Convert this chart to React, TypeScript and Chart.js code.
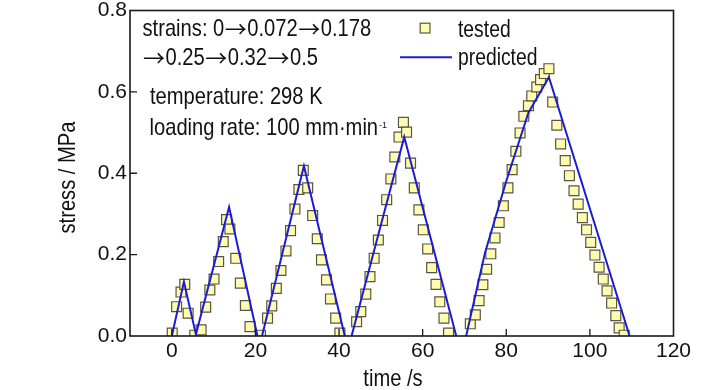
import React, { useEffect, useRef } from 'react';
import { Chart, registerables } from 'chart.js';

Chart.register(...registerables);

// ---- data ----
const testedTime = [
  0.1, 1.15, 2.2, 3.1, 3.9, 5.5, 7.0,
  8.1, 9.1, 10.1, 11.2, 12.3, 13.1, 13.9, 15.3, 16.4, 17.6, 18.7, 21.2,
  22.9, 23.9, 25.0, 26.1, 27.3, 28.4, 29.45, 30.4, 31.45, 32.5, 33.7, 34.8, 35.8, 37.0, 37.95, 39.2, 40.2,
  44.2, 45.2, 46.4, 47.4, 48.4, 49.4, 50.4, 51.4, 52.4, 53.35, 54.35, 55.4,
  56.15, 57.1, 58.0, 59.1, 60.15, 61.2, 62.15, 63.2, 64.1, 65.1, 66.2,
  71.4, 72.6, 73.5, 74.4, 75.3, 76.3, 77.3, 78.3, 79.3, 80.4, 81.4, 82.3, 83.3, 84.2, 85.3, 86.1, 87.3, 88.2, 89.1, 90.2,
  91.1, 92.1, 93.0, 94.1, 95.1, 96.2, 97.2, 98.2, 99.2, 100.2, 101.2, 102.2, 103.2, 104.1, 105.2, 106.2, 107.0, 108.2,
];
const testedStress = [
  0.007, 0.072, 0.108, 0.127, 0.056, 0.002, 0.015,
  0.071, 0.113, 0.14, 0.183, 0.232, 0.286, 0.263, 0.191, 0.13, 0.075, 0.023, 0.002,
  0.044, 0.074, 0.117, 0.161, 0.209, 0.259, 0.312, 0.36, 0.407, 0.364, 0.296, 0.239, 0.187, 0.138, 0.091, 0.044, 0.007,
  0.035, 0.06, 0.103, 0.146, 0.191, 0.236, 0.284, 0.335, 0.386, 0.44, 0.489, 0.525,
  0.501, 0.425, 0.364, 0.31, 0.261, 0.214, 0.168, 0.127, 0.084, 0.044, 0.007,
  0.03, 0.052, 0.087, 0.126, 0.164, 0.202, 0.241, 0.279, 0.32, 0.364, 0.409, 0.454, 0.499, 0.54, 0.566, 0.59, 0.612, 0.63, 0.645, 0.657,
  0.575, 0.518, 0.472, 0.431, 0.394, 0.357, 0.324, 0.291, 0.261, 0.23, 0.199, 0.169, 0.14, 0.111, 0.081, 0.05, 0.02, 0.002,
];
const predictedTime = [0, 2.9, 5.77, 13.7, 21.0, 31.6, 42.15, 49.8, 55.6, 69.3, 74.9, 80.1, 85.3, 90.2, 109.5];
const predictedStress = [0, 0.133, 0.004, 0.317, -0.024, 0.418, -0.033, 0.265, 0.489, -0.05, 0.204, 0.384, 0.549, 0.636, 0];

const xTicks = [0, 20, 40, 60, 80, 100, 120];
const yTicks = [0, 0.2, 0.4, 0.6, 0.8];
const xTitle = 'time /s';
const yTitle = 'stress / MPa';
const legendLabels = ['tested', 'predicted'];
const noteLines = ['strains: 0\u21920.072\u21920.178', '\u21920.25\u21920.32\u21920.5', 'temperature: 298 K', 'loading rate: 100 mm\u00b7min'];
const noteSup = '-1';

const FONT = "'Liberation Sans', Arial, sans-serif";
const ARROW_FONT = "'Noto Sans CJK SC', 'DejaVu Sans', sans-serif";
const SX = 0.84; // horizontal compression for the narrow-looking annotation text
const MARK_FILL = 'rgb(255,252,178)';
const MARK_EDGE = 'rgb(88,86,66)';
const LINE_COLOR = '#1c1cd6';

function drawNarrow(ctx: CanvasRenderingContext2D, text: string, x: number, y: number, size: number, align: 'left' | 'center' = 'left') {
  ctx.font = `${size}px ${FONT}`;
  const parts = text.split('\u2192');
  const arrowW = 23;
  let total = 0;
  parts.forEach((p, i) => {
    total += ctx.measureText(p).width * SX;
    if (i < parts.length - 1) total += arrowW;
  });
  let cx = align === 'center' ? x - total / 2 : x;
  parts.forEach((p, i) => {
    if (p) {
      ctx.save();
      ctx.font = `${size}px ${FONT}`;
      ctx.translate(cx, y);
      ctx.scale(SX, 1);
      ctx.textAlign = 'left';
      ctx.fillText(p, 0, 0);
      ctx.restore();
      ctx.font = `${size}px ${FONT}`;
      cx += ctx.measureText(p).width * SX;
    }
    if (i < parts.length - 1) {
      ctx.save();
      ctx.font = `22px ${ARROW_FONT}`;
      ctx.textAlign = 'left';
      ctx.fillText('\u2192', cx + 0.5, y + 0.5);
      ctx.restore();
      cx += arrowW;
    }
  });
  return cx;
}

const decorPlugin = {
  id: 'decor',
  afterDraw(chart: any) {
    const { ctx, chartArea } = chart;
    const { left, right, top, bottom } = chartArea;
    const xs = chart.scales.x;
    const ys = chart.scales.y;
    ctx.save();
    // frame
    ctx.strokeStyle = '#1a1a1a';
    ctx.lineWidth = 1.6;
    ctx.strokeRect(left, top, right - left, bottom - top);
    // inward ticks
    ctx.lineWidth = 1.3;
    ctx.beginPath();
    xTicks.forEach((v) => {
      const px = xs.getPixelForValue(v);
      if (px > left + 1 && px < right - 1) {
        ctx.moveTo(px, bottom);
        ctx.lineTo(px, bottom - 7);
      }
    });
    yTicks.forEach((v) => {
      const py = ys.getPixelForValue(v);
      if (py > top + 1 && py < bottom - 1) {
        ctx.moveTo(left, py);
        ctx.lineTo(left + 7, py);
      }
    });
    ctx.stroke();

    ctx.fillStyle = '#111';
    ctx.textBaseline = 'alphabetic';
    // annotation text
    drawNarrow(ctx, noteLines[0], 142.5, 36, 24);
    drawNarrow(ctx, noteLines[1], 142.5, 65, 24);
    drawNarrow(ctx, noteLines[2], 150, 104, 24);
    const endX = drawNarrow(ctx, noteLines[3], 149.5, 135, 24);
    ctx.font = `9px ${FONT}`;
    ctx.textAlign = 'left';
    ctx.fillText(noteSup, endX + 1, 128);

    // legend
    ctx.fillStyle = MARK_FILL;
    ctx.strokeStyle = MARK_EDGE;
    ctx.lineWidth = 1.2;
    ctx.fillRect(420.2, 23.2, 9.8, 9.8);
    ctx.strokeRect(420.2, 23.2, 9.8, 9.8);
    ctx.strokeStyle = LINE_COLOR;
    ctx.lineWidth = 2;
    ctx.beginPath();
    ctx.moveTo(400, 57.3);
    ctx.lineTo(452, 57.3);
    ctx.stroke();
    ctx.fillStyle = '#111';
    drawNarrow(ctx, legendLabels[0], 458, 37, 23);
    drawNarrow(ctx, legendLabels[1], 458, 65, 23);

    // axis titles
    drawNarrow(ctx, xTitle, 393, 386, 24, 'center');
    ctx.save();
    ctx.translate(75, 177.5);
    ctx.rotate(-Math.PI / 2);
    drawNarrow(ctx, yTitle, 0, 0, 24, 'center');
    ctx.restore();
    ctx.restore();
  },
};

export default function App() {
  const ref = useRef<HTMLCanvasElement | null>(null);
  useEffect(() => {
    if (!ref.current) return;
    const chart = new Chart(ref.current, {
      type: 'scatter',
      data: {
        datasets: [
          {
            label: legendLabels[1],
            type: 'line',
            data: predictedTime.map((t, i) => ({ x: t, y: predictedStress[i] })),
            borderColor: LINE_COLOR,
            borderWidth: 2,
            pointRadius: 0,
            fill: false,
            tension: 0,
            clip: 0,
          } as any,
          {
            label: legendLabels[0],
            data: testedTime.map((t, i) => ({ x: t, y: testedStress[i] })),
            pointStyle: 'rect',
            pointRadius: 7,
            backgroundColor: MARK_FILL,
            borderColor: MARK_EDGE,
            borderWidth: 1.2,
            clip: 0,
          } as any,
        ],
      },
      options: {
        responsive: false,
        animation: false,
        events: [],
        layout: { padding: { top: 10.5, right: 54.5, left: 0, bottom: 0 } },
        plugins: { legend: { display: false }, tooltip: { enabled: false } },
        scales: {
          x: {
            type: 'linear',
            min: -10,
            max: 120,
            grid: { display: false, drawTicks: false },
            border: { display: false },
            afterBuildTicks: (s: any) => {
              s.ticks = xTicks.map((v) => ({ value: v }));
            },
            afterFit: (s: any) => {
              s.height = 54;
              s.paddingLeft = 0;
              s.paddingRight = 0;
            },
            ticks: {
              autoSkip: false,
              maxRotation: 0,
              padding: 4.5,
              color: '#111',
              font: { family: FONT, size: 21, lineHeight: 1 },
              callback: (v: any) => String(v),
            },
          },
          y: {
            type: 'linear',
            min: 0,
            max: 0.8,
            grid: { display: false, drawTicks: false },
            border: { display: false },
            afterBuildTicks: (s: any) => {
              s.ticks = yTicks.map((v) => ({ value: v }));
            },
            afterFit: (s: any) => {
              s.width = 130;
              s.paddingTop = 0;
              s.paddingBottom = 0;
            },
            ticks: {
              padding: 3,
              color: '#111',
              font: { family: FONT, size: 21, lineHeight: 1 },
              callback: (v: any) => Number(v).toFixed(1),
            },
          },
        },
      } as any,
      plugins: [decorPlugin],
    });
    return () => chart.destroy();
  }, []);
  return (
    <div style={{ position: 'absolute', left: 0, top: 0, width: 728, height: 390, background: '#fff' }}>
      <canvas ref={ref} width={728} height={390} style={{ display: 'block' }} />
    </div>
  );
}
